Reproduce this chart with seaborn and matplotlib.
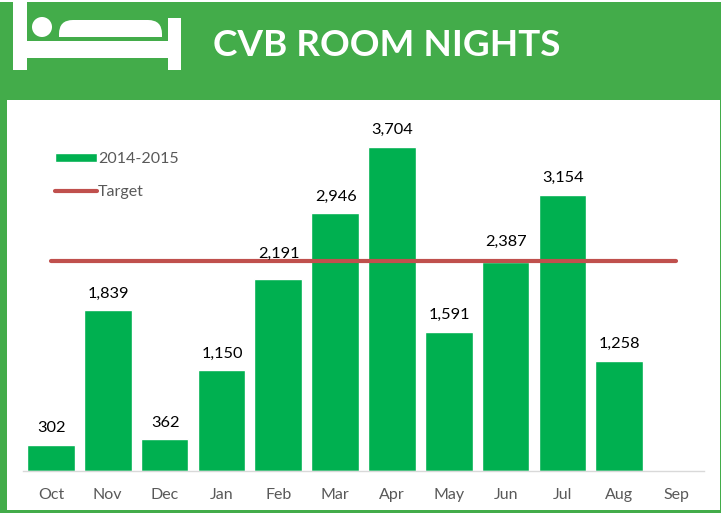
import matplotlib
matplotlib.use("Agg")
import numpy as np
import pandas as pd
import seaborn as sns
import matplotlib.pyplot as plt
from matplotlib.patches import Rectangle, Circle, FancyBboxPatch

months = ["Oct", "Nov", "Dec", "Jan", "Feb", "Mar", "Apr", "May", "Jun", "Jul", "Aug", "Sep"]
room_nights = [302, 1839, 362, 1150, 2191, 2946, 3704, 1591, 2387, 3154, 1258, np.nan]
target = [2400] * 12

GREEN = "#43AC4A"
BAR = "#00B050"
RED = "#C0504D"
W, H = 722, 514

sns.set_theme(style="white")
plt.rcParams["font.family"] = ["Lato", "DejaVu Sans"]

df = pd.DataFrame({"month": months, "nights": room_nights, "target": target})

fig = plt.figure(figsize=(W / 100, H / 100), dpi=100, facecolor="white")

# background and header drawn in pixel coords
bg = fig.add_axes([0, 0, 1, 1], zorder=0)
bg.set_xlim(0, W)
bg.set_ylim(H, 0)
bg.axis("off")
bg.add_patch(Rectangle((0, 2), 721, 511, fc=GREEN, ec="none"))
bg.add_patch(Rectangle((7, 100), 713, 410, fc="white", ec="none"))

# bed icon
bg.add_patch(FancyBboxPatch((73, 34), 75, 10, boxstyle="round,pad=14", fc="white", ec="none"))
bg.add_patch(Rectangle((27, 37), 141, 24, fc=GREEN, ec="none"))
bg.add_patch(Rectangle((13, 2), 14, 68, fc="white", ec="none"))
bg.add_patch(Rectangle((168, 18), 13, 52, fc="white", ec="none"))
bg.add_patch(Rectangle((27, 41), 141, 17, fc="white", ec="none"))
bg.add_patch(Circle((42, 27), 10, fc="white", ec="none"))
bg.text(213, 46, "CVB ROOM NIGHTS", color="white", fontsize=26.6, fontweight="bold",
        ha="left", va="center")

ax = fig.add_axes([22.5 / W, 1 - 471 / H, (705 - 23) / W, (471 - 100) / H], zorder=1)
ax.patch.set_alpha(0)

sns.barplot(data=df, x="month", y="nights", color=BAR, saturation=1, width=0.84,
            ax=ax, label="2014-2015")
sns.lineplot(data=df, x="month", y="target", color=RED, linewidth=3, ax=ax, label="Target",
             solid_capstyle="round", zorder=3)

ax.set_xlim(-0.5, 11.5)
ax.set_ylim(0, 4240)
ax.set_xlabel("")
ax.set_ylabel("")
ax.set_yticks([])
for s in ["top", "left", "right"]:
    ax.spines[s].set_visible(False)
ax.spines["bottom"].set_color("#D9D9D9")
ax.spines["bottom"].set_linewidth(1)
ax.tick_params(axis="x", length=0, pad=12, labelsize=11.5, labelcolor="#595959")

# labels sit above the bars, Feb and Jun pushed clear of the target line
nudge = {"Feb": 9, "Jun": 4}
for i, (m, v) in enumerate(zip(months, room_nights)):
    if np.isnan(v):
        continue
    ax.annotate(f"{v:,.0f}", (i, v), xytext=(0.5, 12 + nudge.get(m, 0) * 0.72),
                textcoords="offset points", ha="center", va="center",
                fontsize=11.8, color="black")

handles, labels = ax.get_legend_handles_labels()
order = [labels.index("2014-2015"), labels.index("Target")]
leg = ax.legend([handles[i] for i in order], [labels[i] for i in order],
                loc="upper left", frameon=False,
                fontsize=11.5, labelcolor="#595959", handlelength=2.6, handleheight=0.5,
                handletextpad=0.1, labelspacing=1.2, borderpad=0, borderaxespad=0,
                bbox_to_anchor=(32.5 / 682, 1 - (152 - 100) / 371))

fig.savefig("out.png", dpi=100)
